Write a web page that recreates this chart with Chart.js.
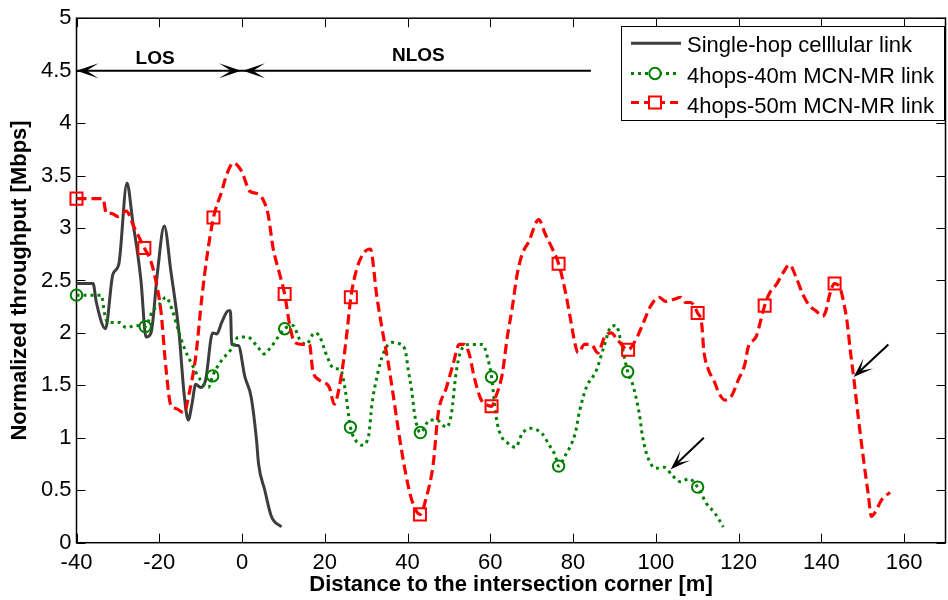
<!DOCTYPE html>
<html><head><meta charset="utf-8">
<script src="https://cdn.jsdelivr.net/npm/chart.js@4.4.0/dist/chart.umd.min.js"></script>
<style>
html,body{margin:0;padding:0;overflow:hidden;background:#fff;width:948px;height:600px}
#wrap{position:absolute;left:0;top:0;width:956px;height:600px}
</style>
</head><body><div id="wrap"><canvas id="c"></canvas></div>
<script>
// ---------- tick values / labels ----------
const xTicks = [-40, -20, 0, 20, 40, 60, 80, 100, 120, 140, 160];
const yTicks = [0, 0.5, 1, 1.5, 2, 2.5, 3, 3.5, 4, 4.5, 5];
const yTickLabels = ['0', '0.5', '1', '1.5', '2', '2.5', '3', '3.5', '4', '4.5', '5'];

// ---------- series names ----------
const seriesNames = ['Single-hop celllular link', '4hops-40m MCN-MR link', '4hops-50m MCN-MR link'];

// ---------- Single-hop cellular link ----------
const grayX = [-40, -36, -35.2, -33.0, -31.2, -29.8, -27.8, -26.4, -25.2, -24.4, -23.2, -22.0, -20.4, -18.8, -17.2, -15.2, -14.0, -13.0, -12.1, -11.2, -10.0, -8.8, -7.1, -6.1, -4.9, -3.3, -2.8, -2.5, -0.9, 0.7, 2.2, 3.5, 4.0, 5.5, 7.1, 9.5];
const grayY = [2.47, 2.47, 2.29, 2.04, 2.56, 2.65, 3.43, 3.06, 2.75, 2.49, 1.96, 2.00, 2.59, 3.02, 2.59, 1.99, 1.42, 1.17, 1.32, 1.51, 1.48, 1.55, 2.00, 1.99, 2.10, 2.21, 2.21, 1.89, 1.88, 1.58, 1.39, 0.98, 0.75, 0.50, 0.25, 0.15];

// ---------- 4hops-40m MCN-MR link ----------
const greenX = [-40, -34.0, -33.2, -32.4, -29.6, -28.0, -25.6, -23.4, -21.6, -20.0, -18.4, -16.8, -15.6, -14.0, -12.1, -10.0, -8.1, -7.1, -4.9, -2.5, -0.9, 1.3, 3.9, 5.3, 6.7, 8.7, 10.3, 12.3, 13.9, 15.5, 17.5, 18.7, 20.6, 22.2, 23.8, 25.0, 26.2, 27.4, 29.0, 30.6, 31.4, 32.6, 34.2, 36.2, 37.8, 39.4, 40.2, 41.0, 41.8, 43.1, 45.4, 47.0, 49.4, 50.6, 51.7, 52.9, 54.9, 58.1, 59.3, 60.3, 61.3, 62.1, 64.5, 66.1, 67.7, 69.7, 72.5, 74.1, 75.7, 76.5, 78.1, 80.5, 81.6, 83.2, 85.6, 87.4, 89.2, 90.4, 91.6, 93.2, 94.4, 96.0, 96.8, 98.0, 100.0, 102.0, 104.0, 106.0, 108.0, 110.1, 112.3, 114.3, 116.3];
const greenY = [2.36, 2.36, 2.18, 2.10, 2.10, 2.05, 2.07, 2.06, 2.21, 2.27, 2.34, 2.21, 2.05, 1.86, 1.70, 1.55, 1.48, 1.59, 1.74, 1.85, 1.96, 1.96, 1.86, 1.80, 1.85, 1.96, 2.04, 2.07, 1.94, 1.89, 2.00, 1.97, 1.77, 1.66, 1.65, 1.44, 1.10, 0.98, 0.93, 1.02, 1.32, 1.58, 1.81, 1.91, 1.90, 1.84, 1.64, 1.45, 1.20, 1.05, 1.17, 1.17, 1.10, 1.23, 1.61, 1.83, 1.89, 1.89, 1.77, 1.58, 1.23, 1.07, 0.94, 0.91, 1.04, 1.09, 1.04, 0.94, 0.83, 0.73, 0.83, 1.04, 1.26, 1.48, 1.64, 1.86, 2.06, 2.07, 1.91, 1.63, 1.51, 1.23, 1.01, 0.82, 0.71, 0.72, 0.64, 0.58, 0.61, 0.53, 0.37, 0.28, 0.15];
const greenMarkerX = [-40, -23.4, -7.1, 10.3, 26.2, 43.1, 60.3, 76.5, 93.2, 110.1];

// ---------- 4hops-50m MCN-MR link ----------
const redX = [-40, -33.6, -32.8, -31.6, -30.0, -28.0, -26.0, -23.6, -22.0, -20.8, -19.6, -18.4, -17.2, -16.0, -14.0, -12.8, -11.2, -9.7, -8.5, -6.9, -4.9, -3.7, -2.1, -0.1, 1.9, 3.5, 5.1, 6.3, 7.5, 9.1, 10.3, 11.5, 12.7, 14.7, 16.3, 17.1, 18.7, 21.1, 22.3, 23.0, 24.4, 25.4, 26.3, 27.8, 29.6, 31.0, 32.6, 34.2, 35.4, 36.6, 37.8, 39.4, 41.0, 43.0, 44.6, 46.2, 47.4, 49.4, 51.0, 52.5, 53.7, 54.9, 56.1, 57.7, 58.9, 60.3, 61.3, 62.9, 64.1, 65.3, 66.5, 67.7, 69.3, 71.7, 73.3, 74.9, 76.5, 78.1, 79.3, 80.5, 81.2, 82.8, 84.4, 86.0, 87.6, 89.2, 90.8, 93.3, 95.6, 96.8, 98.8, 100.8, 102.4, 104.4, 106.0, 107.2, 108.4, 110.1, 111.1, 111.6, 112.8, 114.0, 115.2, 116.7, 118.3, 119.9, 121.5, 122.3, 124.3, 125.1, 126.3, 127.5, 129.1, 130.7, 132.3, 133.9, 135.5, 137.1, 138.7, 140.3, 141.1, 141.9, 143.2, 144.6, 145.5, 146.2, 147.0, 147.8, 149.0, 150.2, 151.3, 152.1, 153.0, 154.6, 156.6];
const redY = [3.28, 3.28, 3.14, 3.14, 3.11, 3.16, 3.00, 2.81, 2.68, 2.49, 2.21, 1.67, 1.31, 1.28, 1.24, 1.42, 1.77, 2.34, 2.72, 3.10, 3.35, 3.51, 3.62, 3.54, 3.35, 3.33, 3.27, 3.13, 2.81, 2.56, 2.37, 2.08, 1.91, 1.89, 1.89, 1.64, 1.55, 1.48, 1.32, 1.39, 1.70, 2.02, 2.34, 2.62, 2.77, 2.80, 2.34, 1.96, 1.70, 1.39, 1.07, 0.69, 0.41, 0.27, 0.44, 0.75, 1.23, 1.48, 1.70, 1.89, 1.89, 1.80, 1.58, 1.37, 1.32, 1.30, 1.39, 1.61, 1.96, 2.24, 2.56, 2.75, 2.87, 3.08, 2.94, 2.81, 2.66, 2.40, 2.15, 1.89, 1.81, 1.89, 1.89, 1.81, 1.96, 2.00, 1.93, 1.84, 1.97, 2.08, 2.26, 2.34, 2.30, 2.32, 2.34, 2.29, 2.29, 2.19, 2.08, 1.83, 1.64, 1.55, 1.43, 1.36, 1.40, 1.55, 1.70, 1.86, 1.97, 2.08, 2.26, 2.38, 2.46, 2.57, 2.65, 2.53, 2.37, 2.26, 2.21, 2.16, 2.21, 2.35, 2.47, 2.42, 2.27, 2.11, 1.83, 1.58, 1.17, 0.79, 0.47, 0.25, 0.29, 0.41, 0.48];
const redMarkerX = [-40, -23.6, -6.9, 10.3, 26.3, 43.0, 60.3, 76.5, 93.3, 110.1, 126.3, 143.2];

// ---------- annotations (data units) ----------
const regionArrowY = 4.5;
const losRange = [-40, 0];
const nlosRange = [0, 84.3];
const regionLabels = [{text: 'LOS', x: -21.0, y: 4.566}, {text: 'NLOS', x: 42.6, y: 4.59}];
const pointerArrows = [{x1: 111.6, y1: 1.00, x2: 103.6, y2: 0.70}, {x1: 156.2, y1: 1.89, x2: 147.8, y2: 1.58}];

const FONT = "'Liberation Sans', Arial, Helvetica, sans-serif";
const GRAY = '#3d3d3d', GREEN = '#008000', RED = '#ff0000';

function pts(xs, ys) { return xs.map((x, i) => ({x: x, y: ys[i]})); }

function arrowHead(ctx, tx, ty, dx, dy, L, W, N) {
  const px = -dy, py = dx;
  ctx.beginPath();
  ctx.moveTo(tx, ty);
  ctx.lineTo(tx - L * dx + W * px, ty - L * dy + W * py);
  ctx.lineTo(tx - N * dx, ty - N * dy);
  ctx.lineTo(tx - L * dx - W * px, ty - L * dy - W * py);
  ctx.closePath();
  ctx.fill();
}

const decor = {
  id: 'decor',
  beforeDatasetsDraw(chart) {
    const {ctx, chartArea: {left, right, top, bottom}, scales: {x, y}} = chart;
    ctx.save();
    ctx.strokeStyle = '#000';
    ctx.lineWidth = 1.5;
    ctx.strokeRect(left, top, right - left, bottom - top);
    ctx.lineWidth = 1;
    ctx.beginPath();
    xTicks.forEach(v => {
      const p = Math.round(x.getPixelForValue(v)) + 0.5;
      ctx.moveTo(p, bottom); ctx.lineTo(p, bottom - 9);
      ctx.moveTo(p, top); ctx.lineTo(p, top + 9);
    });
    yTicks.forEach(v => {
      const p = Math.round(y.getPixelForValue(v)) + 0.5;
      ctx.moveTo(left, p); ctx.lineTo(left + 9, p);
      ctx.moveTo(right, p); ctx.lineTo(right - 9, p);
    });
    ctx.stroke();
    ctx.restore();
  },
  afterDraw(chart) {
    const {ctx, scales: {x, y}} = chart;
    ctx.save();
    // region arrows
    ctx.strokeStyle = '#000'; ctx.fillStyle = '#000'; ctx.lineWidth = 2;
    const ay = y.getPixelForValue(regionArrowY);
    const a0 = x.getPixelForValue(losRange[0]), a1 = x.getPixelForValue(losRange[1]);
    const b0 = x.getPixelForValue(nlosRange[0]), b1 = x.getPixelForValue(nlosRange[1]);
    ctx.beginPath(); ctx.moveTo(a0, ay); ctx.lineTo(b1, ay); ctx.stroke();
    arrowHead(ctx, a0, ay, -1, 0, 22, 7.5, 10);
    arrowHead(ctx, a1 - 1, ay, 1, 0, 22, 7.5, 10);
    arrowHead(ctx, b0 + 1, ay, -1, 0, 22, 7.5, 10);
    // region labels
    ctx.font = 'bold 19px ' + FONT;
    ctx.textAlign = 'center'; ctx.textBaseline = 'alphabetic';
    regionLabels.forEach(l => ctx.fillText(l.text, x.getPixelForValue(l.x), y.getPixelForValue(l.y)));
    // pointer arrows
    pointerArrows.forEach(a => {
      const sx = x.getPixelForValue(a.x1), sy = y.getPixelForValue(a.y1);
      const tx = x.getPixelForValue(a.x2), ty = y.getPixelForValue(a.y2);
      const len = Math.hypot(tx - sx, ty - sy), dx = (tx - sx) / len, dy = (ty - sy) / len;
      ctx.beginPath(); ctx.moveTo(sx, sy); ctx.lineTo(tx - dx * 8, ty - dy * 8); ctx.stroke();
      arrowHead(ctx, tx, ty, dx, dy, 20, 7, 9);
    });
    // legend
    ctx.fillStyle = '#fff';
    ctx.fillRect(621.5, 26.5, 323, 94);
    ctx.strokeStyle = '#000'; ctx.lineWidth = 1;
    ctx.strokeRect(621.5, 26.5, 323, 94);
    const rows = [43.3, 73.5, 102.5], bases = [51.5, 82.5, 112.5];
    // gray
    ctx.lineWidth = 3; ctx.strokeStyle = GRAY; ctx.setLineDash([]);
    ctx.beginPath(); ctx.moveTo(631, rows[0]); ctx.lineTo(681, rows[0]); ctx.stroke();
    // green
    ctx.strokeStyle = GREEN; ctx.setLineDash([3, 4]);
    ctx.beginPath(); ctx.moveTo(631, rows[1]); ctx.lineTo(680, rows[1]); ctx.stroke();
    ctx.setLineDash([]); ctx.lineWidth = 2;
    ctx.fillStyle = '#fff';
    ctx.beginPath(); ctx.arc(655, rows[1], 5.7, 0, Math.PI * 2); ctx.fill(); ctx.stroke();
    // red
    ctx.lineWidth = 3; ctx.strokeStyle = RED; ctx.setLineDash([8, 5]);
    ctx.beginPath(); ctx.moveTo(631, rows[2]); ctx.lineTo(680, rows[2]); ctx.stroke();
    ctx.setLineDash([]); ctx.lineWidth = 2;
    ctx.fillRect(649, rows[2] - 6, 12, 12); ctx.strokeRect(649, rows[2] - 6, 12, 12);
    // legend text
    ctx.fillStyle = '#000'; ctx.font = '22px ' + FONT;
    ctx.textAlign = 'left'; ctx.textBaseline = 'alphabetic';
    seriesNames.forEach((n, i) => ctx.fillText(n, 687, bases[i]));
    ctx.restore();
  }
};

const markerRadius = (list, r) => (c) => (c.raw && list.includes(c.raw.x)) ? r : 0;

new Chart(document.getElementById('c'), {
  type: 'line',
  data: {
    datasets: [
      {label: seriesNames[0], data: pts(grayX, grayY), borderColor: GRAY, borderWidth: 3, pointRadius: 0,
       cubicInterpolationMode: 'monotone', order: 2, clip: false},
      {label: seriesNames[1], data: pts(greenX, greenY), borderColor: GREEN, borderWidth: 3, borderDash: [3, 4],
       pointStyle: 'circle', pointRadius: markerRadius(greenMarkerX, 5.7), pointBorderWidth: 2,
       pointBorderColor: GREEN, pointBackgroundColor: 'rgba(0,0,0,0)', cubicInterpolationMode: 'monotone', order: 1, clip: false},
      {label: seriesNames[2], data: pts(redX, redY), borderColor: RED, borderWidth: 3.2, borderDash: [10, 5],
       pointStyle: 'rect', pointRadius: markerRadius(redMarkerX, 8.5), pointBorderWidth: 2,
       pointBorderColor: RED, pointBackgroundColor: 'rgba(0,0,0,0)', cubicInterpolationMode: 'monotone', order: 0, clip: false}
    ]
  },
  options: {
    responsive: true, maintainAspectRatio: false, animation: false, events: [],
    layout: {padding: {top: 16, right: 2, bottom: 0, left: 0}},
    plugins: {legend: {display: false}, tooltip: {enabled: false}},
    scales: {
      x: {
        type: 'linear', min: -40, max: 170,
        afterBuildTicks: s => { s.ticks = xTicks.map(v => ({value: v})); },
        afterFit: s => { s.height = 57.3; },
        grid: {display: false, drawTicks: false}, border: {display: false},
        ticks: {font: {family: FONT, size: 22}, color: '#000', padding: 7, maxRotation: 0, autoSkip: false,
                callback: v => String(v)},
        title: {display: true, text: 'Distance to the intersection corner [m]', color: '#000',
                font: {family: FONT, size: 22, weight: 'bold'}, padding: {top: 0, bottom: 2}}
      },
      y: {
        type: 'linear', min: 0, max: 5,
        afterBuildTicks: s => { s.ticks = yTicks.map(v => ({value: v})); },
        afterFit: s => { s.width = 76.5; },
        grid: {display: false, drawTicks: false}, border: {display: false},
        ticks: {font: {family: FONT, size: 22}, color: '#000', padding: 5, autoSkip: false,
                callback: v => { const i = yTicks.indexOf(v); return i >= 0 ? yTickLabels[i] : ''; }},
        title: {display: true, text: 'Normalized throughput [Mbps]', color: '#000',
                font: {family: FONT, size: 22, weight: 'bold'}, padding: {top: 7, bottom: 0}}
      }
    }
  },
  plugins: [decor]
});
</script>
</body></html>
